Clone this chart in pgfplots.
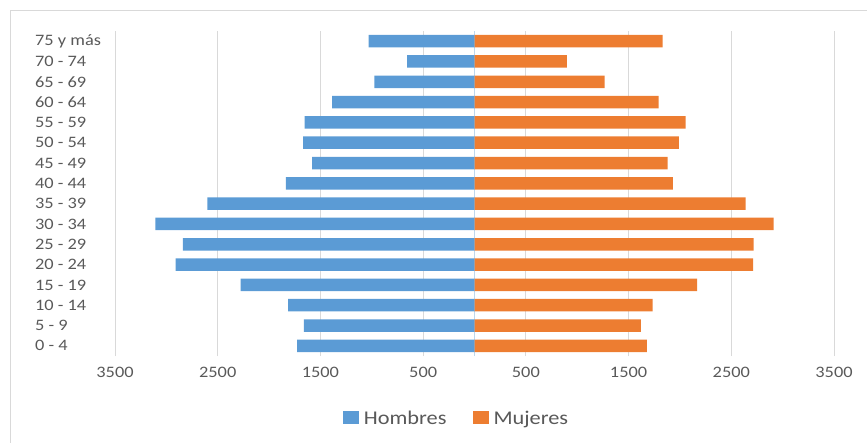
\documentclass[border=0pt]{standalone}
\usepackage{fontspec}
\setmainfont{Carlito}[FakeStretch=1.15]
\usepackage{pgfplots}
\pgfplotsset{compat=1.18}
\definecolor{hombres}{HTML}{5B9BD5}
\definecolor{mujeres}{HTML}{ED7D31}
\definecolor{txt}{HTML}{595959}
\definecolor{gridc}{HTML}{D9D9D9}
\definecolor{axisc}{HTML}{BDD7EE}
\begin{document}
\begin{tikzpicture}
\useasboundingbox (0,0) rectangle (867bp,443bp);
\draw[gridc, line width=0.8pt] (10bp,-5bp) -- (10bp,433bp) -- (880bp,433bp);
\begin{axis}[
    at={(115bp,87bp)}, anchor=south west,
    scale only axis,
    width=719bp, height=325bp,
    xbar, bar width=12.5bp, bar shift=0pt,
    xmin=-3500, xmax=3500,
    ymin=-0.5, ymax=15.5,
    xtick={-3500,-2500,-1500,-500,500,1500,2500,3500},
    xticklabels={3500,2500,1500,500,500,1500,2500,3500},
    extra x ticks={0}, extra x tick labels={},
    extra x tick style={grid=major, major grid style={color=axisc, line width=0.8pt}},
    ytick={0,...,15},
    yticklabels={0 - 4,5 - 9,10 - 14,15 - 19,20 - 24,25 - 29,30 - 34,35 - 39,40 - 44,45 - 49,50 - 54,55 - 59,60 - 64,65 - 69,70 - 74,75 y más},
    xmajorgrids, major grid style={gridc, line width=0.8pt},
    axis line style={draw=none},
    major tick length=0pt,
    /pgf/number format/assume math mode=true,
    tick label style={font=\fontsize{16}{18}\selectfont, text=txt},
    yticklabel style={anchor=west, xshift=-80bp, inner sep=0pt},
    xticklabel style={yshift=-8bp},
    legend style={at={(0.475,-0.191)}, anchor=center, draw=none,
        font=\fontsize{19.5}{21}\selectfont, text=txt,
        legend columns=2,
        /tikz/every odd column/.append style={column sep=3bp},
        /tikz/every even column/.append style={column sep=24bp}},
    legend image code/.code={\fill[#1, draw=none] (0bp,-6bp) rectangle (16bp,7bp);},
]
\addplot[fill=hombres, draw=none] coordinates {
    (-1727,0) (-1662,1) (-1814,2) (-2278,3) (-2911,4) (-2840,5) (-3106,6) (-2600,7)
    (-1837,8) (-1580,9) (-1668,10) (-1655,11) (-1386,12) (-974,13) (-655,14) (-1032,15)
};
\addplot[fill=mujeres, draw=none] coordinates {
    (1678,0) (1619,1) (1733,2) (2168,3) (2713,4) (2717,5) (2912,6) (2639,7)
    (1932,8) (1880,9) (1990,10) (2055,11) (1792,12) (1266,13) (900,14) (1831,15)
};
\legend{Hombres, Mujeres}
\end{axis}
\end{tikzpicture}
\end{document}
